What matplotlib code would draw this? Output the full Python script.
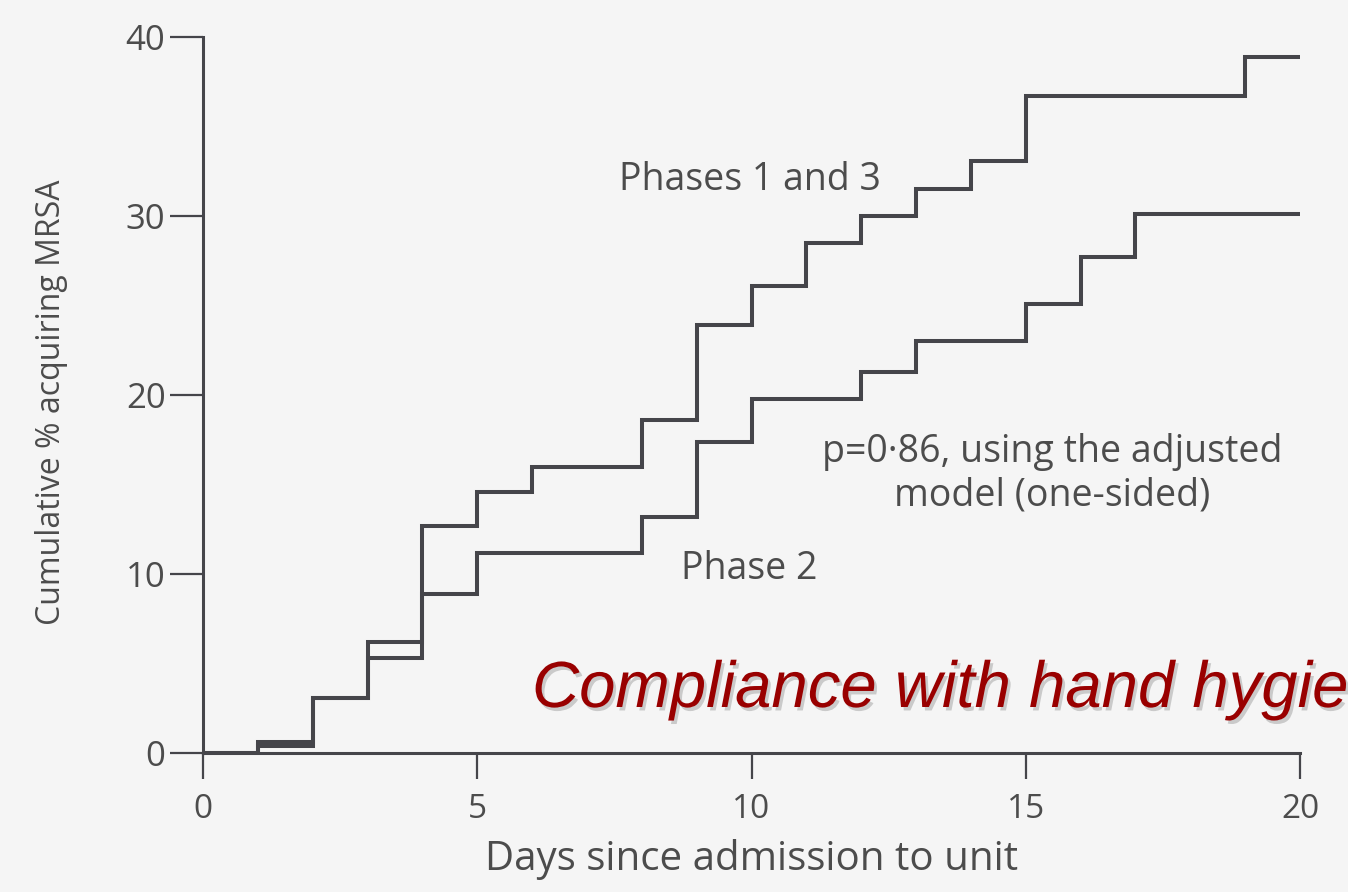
import matplotlib
matplotlib.use("Agg")
import matplotlib.pyplot as plt
import matplotlib.patheffects as pe

# Days at which the cumulative percentage changes, and the level reached
days_p13 = [0, 1, 2, 3, 4, 5, 6, 8, 9, 10, 11, 12, 13, 14, 15, 19, 20]
pct_p13 = [0, 0.6, 3.1, 6.2, 12.7, 14.6, 16.0, 18.6, 23.9, 26.1, 28.5, 30.0, 31.5, 33.1, 36.7, 38.9, 38.9]

days_p2 = [0, 1, 2, 3, 4, 5, 8, 9, 10, 12, 13, 15, 16, 17, 20]
pct_p2 = [0, 0.4, 3.1, 5.3, 8.9, 11.2, 13.2, 17.4, 19.8, 21.3, 23.0, 25.1, 27.7, 30.1, 30.1]

x_ticks = [0, 5, 10, 15, 20]
y_ticks = [0, 10, 20, 30, 40]

bg = "#f5f5f5"
ink = "#45454a"
text_col = "#4c4c4c"
font = "Open Sans"

fig = plt.figure(figsize=(13.48, 8.92), dpi=100, facecolor=bg)
ax = fig.add_axes([203 / 1348, (892 - 753) / 892, (1300 - 203) / 1348, (753 - 37) / 892])
ax.set_facecolor(bg)

ax.step(days_p13, pct_p13, where="post", color=ink, lw=2.9, solid_joinstyle="miter")
ax.step(days_p2, pct_p2, where="post", color=ink, lw=2.9, solid_joinstyle="miter")

ax.set_xlim(0, 20)
ax.set_ylim(0, 40)
ax.set_xticks(x_ticks)
ax.set_yticks(y_ticks)

for side in ("top", "right"):
    ax.spines[side].set_visible(False)
for side in ("left", "bottom"):
    ax.spines[side].set_color(ink)
    ax.spines[side].set_linewidth(2.2)

ax.tick_params(axis="y", direction="out", length=24, width=1.6, color=ink, pad=3,
               labelsize=25, labelcolor=text_col)
ax.tick_params(axis="x", direction="out", length=19, width=1.6, color=ink, pad=10,
               labelsize=24, labelcolor=text_col)
for lab in ax.get_xticklabels() + ax.get_yticklabels():
    lab.set_family(font)

ax.set_xlabel("Days since admission to unit", family=font, fontsize=29, color=text_col,
              labelpad=9)
ax.set_ylabel("Cumulative % acquiring MRSA", family=font, fontsize=23, color=text_col)
ax.yaxis.set_label_coords(-0.1235, 0.49)

ax.text(9.97, 32.0, "Phases 1 and 3", family=font, fontsize=27, color=text_col,
        ha="center", va="center")
ax.text(9.96, 10.3, "Phase 2", family=font, fontsize=27, color=text_col,
        ha="center", va="center")
ax.text(15.48, 15.6, "p=0\u00b786, using the adjusted\nmodel (one-sided)", family=font,
        fontsize=27, color=text_col, ha="center", va="center", multialignment="center",
        linespacing=1.2)

fig.text(532 / 1348, (892 - 707) / 892, "Compliance with hand hygiene",
         family="Liberation Sans", style="italic", fontsize=47, color="#990000",
         ha="left", va="baseline",
         path_effects=[pe.withSimplePatchShadow(offset=(2, -2.5), shadow_rgbFace="#7a7a7a",
                                                alpha=0.35)])

fig.savefig("out.png", dpi=100, facecolor=bg)
